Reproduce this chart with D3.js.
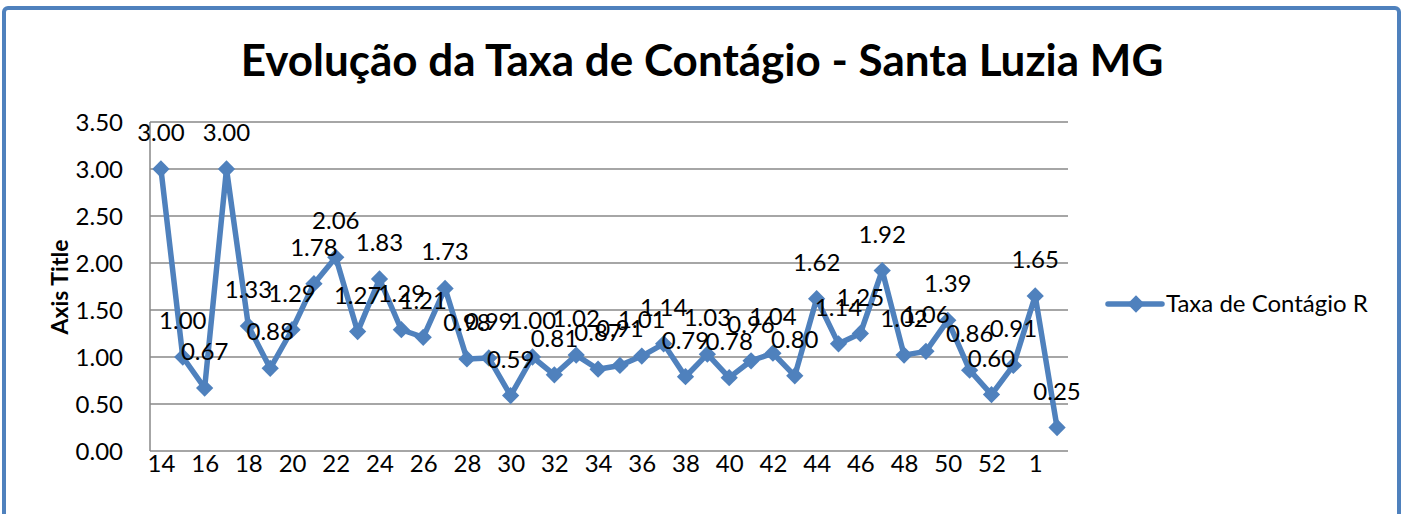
<!DOCTYPE html>
<html>
<head>
<meta charset="utf-8">
<script src="https://cdn.jsdelivr.net/npm/d3@7"></script>
<style>
  html, body { margin: 0; padding: 0; background: #fff; }
  svg text { font-family: Lato, "Open Sans", sans-serif; fill: #000; }
</style>
</head>
<body>
<svg id="chart" width="1406" height="514"></svg>
<script>
// semanas epidemiologicas (14..53, depois 1, 2 do ano seguinte)
const weeks = ["14","15","16","17","18","19","20","21","22","23","24","25","26","27","28","29","30","31","32","33",
  "34","35","36","37","38","39","40","41","42","43","44","45","46","47","48","49","50","51","52","53","1","2"];
const taxa = [3.00,1.00,0.67,3.00,1.33,0.88,1.29,1.78,2.06,1.27,1.83,1.29,1.21,1.73,0.98,0.99,0.59,1.00,0.81,1.02,
  0.87,0.91,1.01,1.14,0.79,1.03,0.78,0.96,1.04,0.80,1.62,1.14,1.25,1.92,1.02,1.06,1.39,0.86,0.60,0.91,1.65,0.25];
const yTicks = [0, 0.5, 1, 1.5, 2, 2.5, 3, 3.5];
const xTickLabels = weeks.filter((d, i) => i % 2 === 0);
const seriesName = "Taxa de Contágio R";
const title = "Evolução da Taxa de Contágio - Santa Luzia MG";

const blue = "#4f81bd";
const gridColor = "#898989";

const svg = d3.select("#chart");

// moldura azul
svg.append("rect")
  .attr("x", 4).attr("y", 8)
  .attr("width", 1395).attr("height", 530)
  .attr("rx", 4)
  .attr("fill", "none")
  .attr("stroke", blue)
  .attr("stroke-width", 4);

const x = d3.scalePoint().domain(weeks).range([150, 1068]).padding(0.5);
const y = d3.scaleLinear().domain([0, 3.5]).range([451, 122]);

// grid
svg.append("g")
  .selectAll("line")
  .data(yTicks)
  .join("line")
  .attr("x1", 150).attr("x2", 1068)
  .attr("y1", d => y(d)).attr("y2", d => y(d))
  .attr("stroke", gridColor)
  .attr("stroke-width", 1.5);

// eixo vertical
svg.append("line")
  .attr("x1", 150).attr("x2", 150)
  .attr("y1", y(3.5)).attr("y2", y(0))
  .attr("stroke", gridColor)
  .attr("stroke-width", 1.5);

const yAxis = d3.axisLeft(y).tickValues(yTicks).tickFormat(d3.format(".2f")).tickSize(0).tickPadding(27);
svg.append("g")
  .attr("transform", "translate(150,0)")
  .call(yAxis)
  .call(g => g.select(".domain").remove())
  .selectAll("text")
  .style("font-size", "24px")
  .attr("dy", "0.35em");

const xAxis = d3.axisBottom(x).tickValues(xTickLabels).tickSize(0).tickPadding(4);
svg.append("g")
  .attr("transform", "translate(0,451)")
  .call(xAxis)
  .call(g => g.select(".domain").remove())
  .selectAll("text")
  .style("font-size", "24px");

// titulo
svg.append("text")
  .attr("x", 702).attr("y", 76)
  .attr("text-anchor", "middle")
  .style("font-size", "44px")
  .style("font-weight", "bold")
  .text(title);

svg.append("text")
  .attr("transform", "translate(68,287) rotate(-90)")
  .attr("text-anchor", "middle")
  .style("font-size", "23px")
  .style("font-weight", "bold")
  .text("Axis Title");

// serie
const line = d3.line().x((d, i) => x(weeks[i])).y(d => y(d));
svg.append("path")
  .datum(taxa)
  .attr("d", line)
  .attr("fill", "none")
  .attr("stroke", blue)
  .attr("stroke-width", 5.5)
  .attr("stroke-linejoin", "round");

const diamond = d3.symbol().type(d3.symbolDiamond2).size(190);
svg.append("g")
  .selectAll("path")
  .data(taxa)
  .join("path")
  .attr("transform", (d, i) => `translate(${x(weeks[i])},${y(d)})`)
  .attr("d", diamond)
  .attr("fill", blue);

svg.append("g")
  .selectAll("text")
  .data(taxa)
  .join("text")
  .attr("x", (d, i) => x(weeks[i]))
  .attr("y", d => y(d) - 28)
  .attr("text-anchor", "middle")
  .style("font-size", "24px")
  .text(d => d3.format(".2f")(d));

// legenda
const leg = svg.append("g").attr("transform", "translate(1108,304)");
leg.append("line")
  .attr("x1", 0).attr("x2", 54)
  .attr("stroke", blue).attr("stroke-width", 5.5).attr("stroke-linecap", "round");
leg.append("path")
  .attr("transform", "translate(28,0)")
  .attr("d", diamond)
  .attr("fill", blue);
leg.append("text")
  .attr("x", 58).attr("y", 0).attr("dy", "0.35em")
  .style("font-size", "24px")
  .text(seriesName);
</script>
</body>
</html>
